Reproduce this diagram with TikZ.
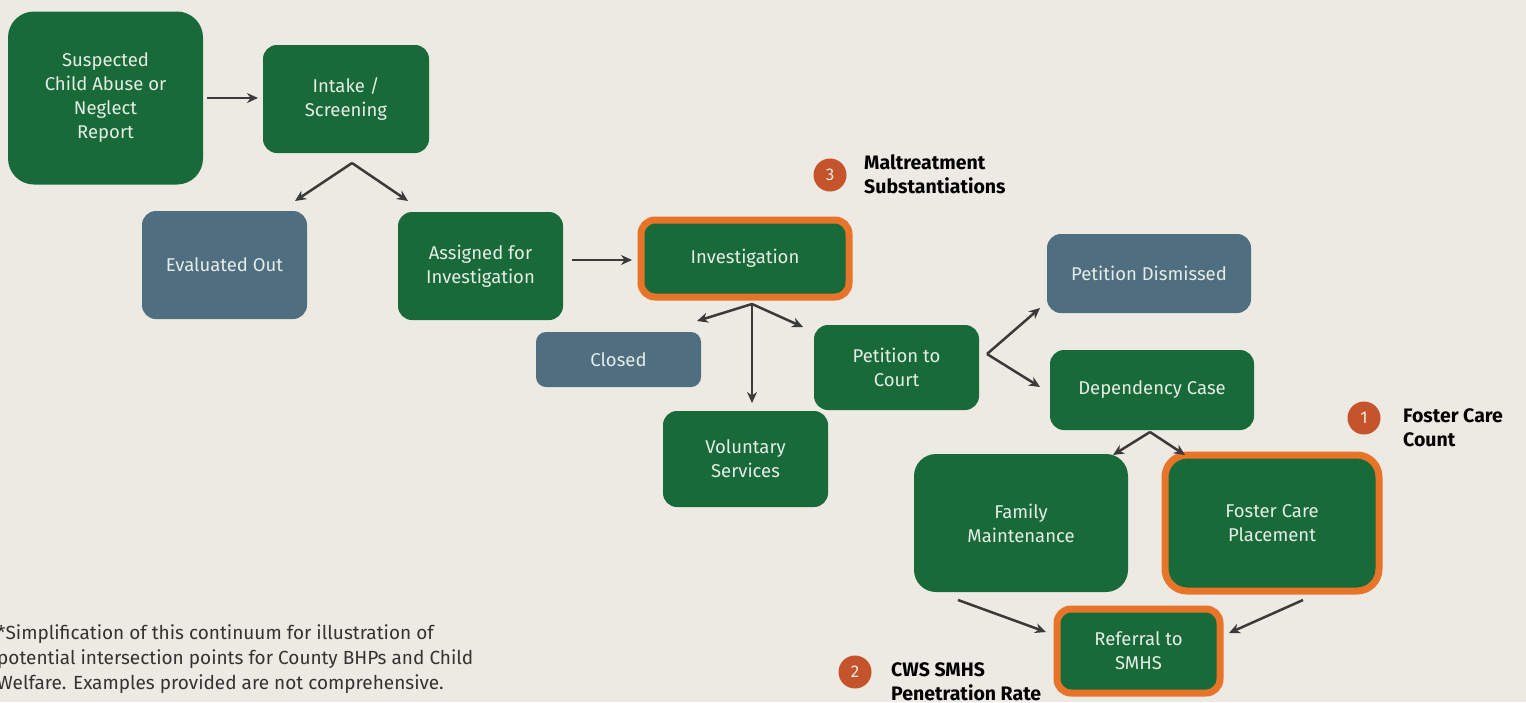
\documentclass[tikz,border=0pt]{standalone}
\usepackage{fontspec}
\setmainfont{Fira Sans}
\usetikzlibrary{arrows.meta}
\definecolor{bg}{HTML}{ECEAE2}
\definecolor{boxgreen}{HTML}{186B38}
\definecolor{boxblue}{HTML}{4F6E80}
\definecolor{hiorange}{HTML}{E8742A}
\definecolor{badge}{HTML}{C5532B}
\definecolor{arrowgray}{HTML}{3A3A3A}
\definecolor{boxtext}{HTML}{E6ECE6}
\definecolor{notegray}{HTML}{333333}
\tikzset{
  base/.style={rounded corners=14pt, inner sep=0pt, align=center, text=boxtext,
    font=\fontsize{18.5}{24}\selectfont},
  gbox/.style={base, fill=boxgreen},
  bbox/.style={base, fill=boxblue},
  obox/.style={base, fill=boxgreen, draw=hiorange, line width=7pt},
  arr/.style={draw=arrowgray, line width=2.5pt, -{Stealth[length=11pt,width=10pt]}},
  badgec/.style={circle, fill=badge, minimum size=33pt, inner sep=0pt, text=boxtext,
    font=\fontsize{17}{18}\selectfont},
  blabel/.style={anchor=west, align=left, text=black, inner sep=0pt,
    font=\bfseries\fontsize{19.5}{24}\selectfont},
}
\begin{document}
\begin{tikzpicture}[x=1pt,y=-1pt]
\useasboundingbox (0,0) rectangle (1526,702);
\fill[bg] (0,0) rectangle (1526,702);

\node[gbox, rounded corners=26pt, minimum width=195pt, minimum height=173pt] (rep) at (105.5,98) {Suspected\\Child Abuse or\\Neglect\\Report};
\node[gbox, minimum width=166pt, minimum height=108pt] (intake) at (346,99) {Intake /\\Screening};
\node[bbox, minimum width=165pt, minimum height=108pt] (evo) at (224.5,265) {Evaluated Out};
\node[gbox, minimum width=165pt, minimum height=108pt] (asg) at (480.5,266) {Assigned for\\Investigation};
\node[obox, minimum width=208pt, minimum height=77pt] (inv) at (745,258.5) {Investigation};
\node[bbox, rounded corners=10pt, minimum width=165pt, minimum height=55pt] (closed) at (618.5,359.5) {Closed};
\node[gbox, minimum width=165pt, minimum height=96pt] (vol) at (745.5,459) {Voluntary\\Services};
\node[gbox, minimum width=165pt, minimum height=85pt] (pet) at (896.5,367.5) {Petition to\\Court};
\node[bbox, minimum width=204pt, minimum height=79pt] (dis) at (1149,273.5) {Petition Dismissed};
\node[gbox, minimum width=204pt, minimum height=80pt] (dep) at (1152,390) {Dependency Case};
\node[gbox, rounded corners=22pt, minimum width=214pt, minimum height=138pt] (fam) at (1021,523) {Family\\Maintenance};
\node[obox, rounded corners=22pt, minimum width=214pt, minimum height=136pt] (fos) at (1272,523) {Foster Care\\Placement};
\node[obox, minimum width=163pt, minimum height=84pt] (ref) at (1138.5,651) {Referral to\\SMHS};

% badges and labels
\node[badgec] (b3) at (830,175) {3};
\node[blabel] (l3) at (864,174) {Maltreatment\\Substantiations};
\node[badgec] (b1) at (1364,418) {1};
\node[blabel] (l1) at (1403,428) {Foster Care\\Count};
\node[badgec] (b2) at (855,672) {2};
\node[blabel] (l2) at (891,682) {CWS SMHS\\Penetration Rate};

% footnote
\node[anchor=north west, align=left, inner sep=0pt, text=notegray,
  font=\fontsize{19}{25}\selectfont] (note) at (-3,624)
  {*Simplification of this continuum for illustration of\\potential intersection points for County BHPs and Child\\Welfare. Examples provided are not comprehensive.};

% connector points
\coordinate (s1) at (207,98); \coordinate (e1) at (258,98);
\coordinate (ap1) at (352,163); \coordinate (e2a) at (295,201); \coordinate (e2b) at (408,201);
\coordinate (s3) at (572,260); \coordinate (e3) at (632,260);
\coordinate (ap2) at (752,304); \coordinate (e4a) at (697,321); \coordinate (e4b) at (803,327); \coordinate (e4c) at (752,403);
\coordinate (ap3) at (987,354); \coordinate (e5a) at (1040,308); \coordinate (e5b) at (1040,387);
\coordinate (ap4) at (1150,432); \coordinate (e6a) at (1113,455); \coordinate (e6b) at (1185,455);
\coordinate (s7) at (958,600); \coordinate (e7) at (1046,632);
\coordinate (s8) at (1303,600); \coordinate (e8) at (1229,633);

\draw[arr] (s1) -- (e1);
\draw[arr] (ap1) -- (e2a);
\draw[arr] (ap1) -- (e2b);
\draw[arr] (s3) -- (e3);
\draw[arr] (ap2) -- (e4a);
\draw[arr] (ap2) -- (e4b);
\draw[arr] (ap2) -- (e4c);
\draw[arr] (ap3) -- (e5a);
\draw[arr] (ap3) -- (e5b);
\draw[arr] (ap4) -- (e6a);
\draw[arr] (ap4) -- (e6b);
\draw[arr] (s7) -- (e7);
\draw[arr] (s8) -- (e8);
\end{tikzpicture}
\end{document}
